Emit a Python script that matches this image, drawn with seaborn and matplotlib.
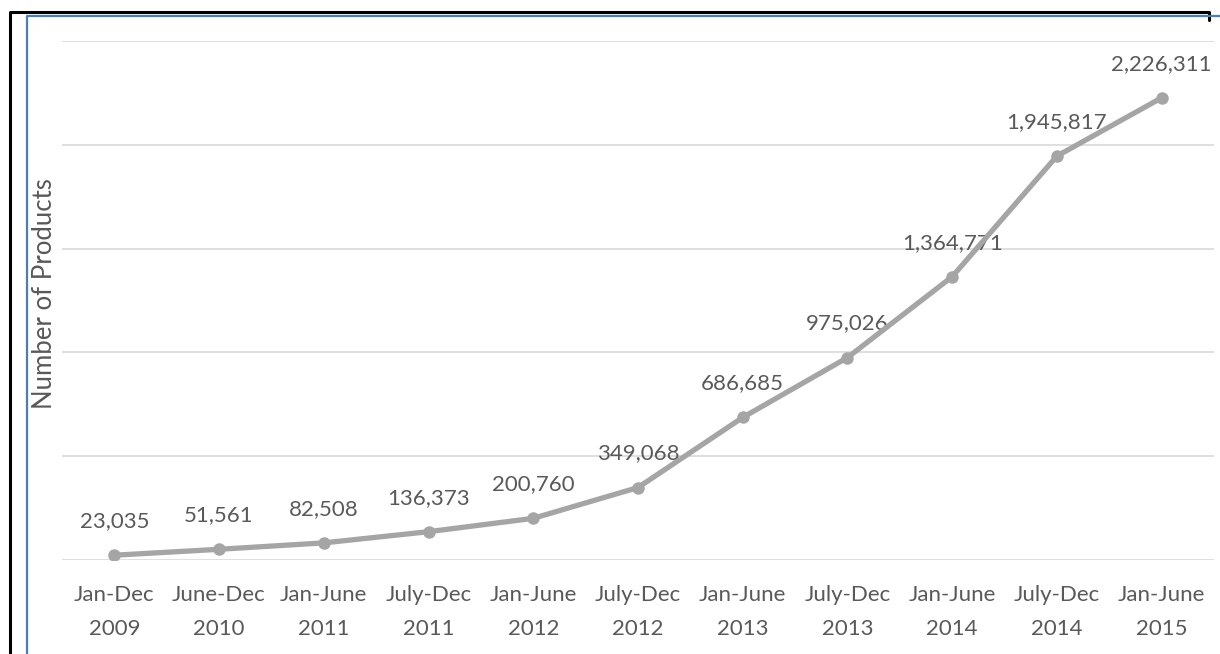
import matplotlib
matplotlib.use("Agg")
import matplotlib.pyplot as plt
from matplotlib.lines import Line2D
import seaborn as sns
import pandas as pd

periods = ["Jan-Dec\n2009", "June-Dec\n2010", "Jan-June\n2011", "July-Dec\n2011",
           "Jan-June\n2012", "July-Dec\n2012", "Jan-June\n2013", "July-Dec\n2013",
           "Jan-June\n2014", "July-Dec\n2014", "Jan-June\n2015"]
products = [23035, 51561, 82508, 136373, 200760, 349068, 686685, 975026,
            1364771, 1945817, 2226311]
y_ticks = [0, 500000, 1000000, 1500000, 2000000, 2500000]

sns.set_theme(style="white")
plt.rcParams["font.family"] = ["Lato", "DejaVu Sans"]

text_color = "#595959"
line_color = "#A5A5A5"

df = pd.DataFrame({"pos": range(len(periods)), "products": products})

fig = plt.figure(figsize=(12.2, 6.54), dpi=100)
ax = fig.add_axes([62 / 1220, 94 / 654, 1152 / 1220, 519 / 654])

sns.lineplot(data=df, x="pos", y="products", ax=ax, color=line_color,
             linewidth=3.8, marker="o", markersize=9, markeredgewidth=0,
             zorder=3)

ax.set_xlim(-0.5, len(periods) - 0.5)
ax.set_ylim(y_ticks[0], y_ticks[-1])
ax.set_yticks(y_ticks)
ax.set_yticklabels([])
ax.grid(axis="y", color="#D9D9D9", linewidth=1.2)
ax.grid(axis="x", visible=False)
for s in ax.spines.values():
    s.set_visible(False)
ax.tick_params(axis="both", length=0)
ax.set_xticks(range(len(periods)))
ax.set_xticklabels(periods, fontsize=16, color=text_color, linespacing=1.85)
ax.tick_params(axis="x", pad=18)
ax.set_xlabel("")
ax.set_ylabel("Number of Products", fontsize=18.5, color=text_color)
ax.yaxis.set_label_coords(-5 / 1152, 0.513)

for i, v in enumerate(products):
    ax.annotate(f"{v:,}", (i, v), xytext=(0, 24.5), textcoords="offset points",
                ha="center", va="center", fontsize=16, color=text_color,
                zorder=2)

# frame lines around the chart
fig.add_artist(Line2D([10 / 1220, 10 / 1220, 1209 / 1220, 1209 / 1220],
                      [0, 1 - 12 / 654, 1 - 12 / 654, 1 - 20 / 654],
                      transform=fig.transFigure, color="black", linewidth=2.2))
fig.add_artist(Line2D([27 / 1220, 27 / 1220, 1],
                      [0, 1 - 16 / 654, 1 - 16 / 654],
                      transform=fig.transFigure, color="#4A7EBB", linewidth=1.6))

fig.savefig("out.png", dpi=100, facecolor="white")
